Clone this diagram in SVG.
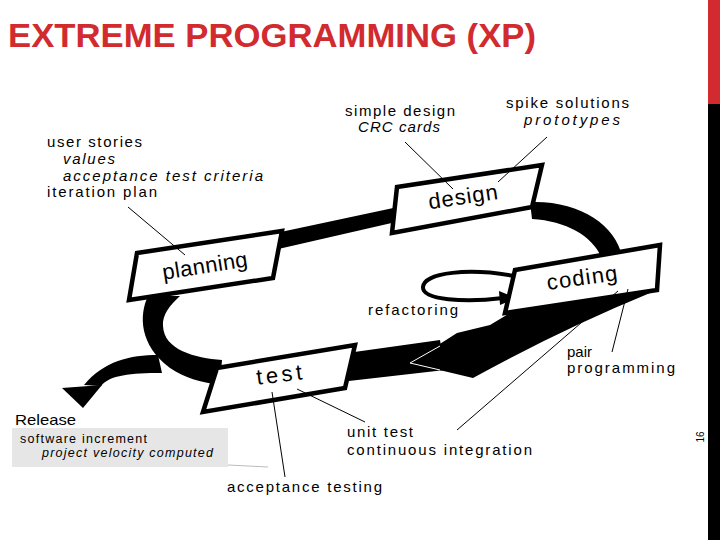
<svg xmlns="http://www.w3.org/2000/svg" width="720" height="540" viewBox="0 0 720 540">
<style>
.lbl{font-family:"Liberation Sans",Arial,sans-serif;font-size:15px;fill:#000}
.sm{font-size:12.5px}
.it{font-style:italic}
.box{fill:#fff;stroke:#000;stroke-width:4.5;stroke-linejoin:miter}
.bt{font-family:"Liberation Sans",Arial,sans-serif;font-size:22px;fill:#000;text-anchor:middle}
.lead{stroke:#000;stroke-width:1;fill:none}
.blk{fill:#000;stroke:none}
</style>
<rect width="720" height="540" fill="#fff"/>
<text x="8" y="47" font-family="'Liberation Sans',Arial,sans-serif" font-weight="bold" font-size="33" fill="#d12b2f" textLength="528" lengthAdjust="spacingAndGlyphs">EXTREME PROGRAMMING (XP)</text>
<rect x="708" y="0" width="12" height="104" fill="#d12b2f"/>
<rect x="708" y="104" width="12" height="436" fill="#000"/>
<text transform="translate(704,437) rotate(-90)" text-anchor="middle" font-family="'Liberation Sans',Arial,sans-serif" font-size="10">16</text>

<g id="flow">
  <polygon class="blk" points="276,233 398,207 396,222 274,250"/>
  <path class="blk" d="M530 202 C582 200 620 228 623 262 L603 263 C598 240 570 221 532 219 Z"/>
  <path class="blk" d="M148 296 C139 315 139 345 170 368 C185 378 200 382 220 385 L222 360 C195 358 164 350 163 326 C162 315 170 305 180 296 Z"/>
  <path class="blk" d="M158 355 C130 355 104 361 84 385 L101 386 C110 375 130 373 162 373 Z"/>
  <polygon class="blk" points="62,388 102,385 83,408"/>
  <polygon class="blk" points="340,354 440,340 445,370 340,382"/>
  <path class="blk" d="M650 288 L520 306 L505 316 L490 325 L457 333 L410 363 L473 378 Q560 330 650 293 Z"/>
  <polyline points="440,346 410,363 440,370" fill="none" stroke="#fff" stroke-width="1"/>
  <path d="M514 276 C470 268 424 272 423 287 C422 300 465 303 503 298" fill="none" stroke="#000" stroke-width="4"/>
  <polygon class="blk" points="499,291 516,298 500,305"/>
</g>

<g id="planning">
  <polygon class="box" points="137,253 282,231 273,278 129,300"/>
  <text class="bt" transform="translate(206,273) rotate(-9)" textLength="86" lengthAdjust="spacing">planning</text>
</g>
<g id="design">
  <polygon class="box" points="397,187 542,165 532,207 392,233"/>
  <text class="bt" transform="translate(464,204) rotate(-8.5)" textLength="70" lengthAdjust="spacing">design</text>
</g>
<g id="coding">
  <polygon class="box" points="515,270 660,245 657,290 505,313"/>
  <text class="bt" transform="translate(583,285) rotate(-8)" textLength="71" lengthAdjust="spacing">coding</text>
</g>
<g id="test">
  <polygon class="box" points="217,368 355,345 345,388 203,412"/>
  <text class="bt" transform="translate(280,382) rotate(-7)" textLength="46" lengthAdjust="spacing">test</text>
</g>

<g id="leaders">
  <line class="lead" x1="128" y1="207" x2="185" y2="255"/>
  <line class="lead" x1="405" y1="142" x2="453" y2="189"/>
  <line class="lead" x1="547" y1="137" x2="498" y2="182"/>
  <line class="lead" x1="628" y1="289" x2="612" y2="352"/>
  <line class="lead" x1="618" y1="291" x2="457" y2="430"/>
  <line class="lead" x1="297" y1="389" x2="365" y2="422"/>
  <line class="lead" x1="272" y1="392" x2="285" y2="477"/>
  <line x1="228" y1="465" x2="268" y2="467" stroke="#bbb" stroke-width="1"/>
</g>

<g id="labels">
  <text class="lbl" x="47" y="147" textLength="95" lengthAdjust="spacing">user stories</text>
  <text class="lbl it" x="63" y="164" textLength="52" lengthAdjust="spacing">values</text>
  <text class="lbl it" x="63" y="181" textLength="200" lengthAdjust="spacing">acceptance test criteria</text>
  <text class="lbl" x="47" y="197" textLength="110" lengthAdjust="spacing">iteration plan</text>
  <text class="lbl" x="345" y="116" textLength="110" lengthAdjust="spacing">simple design</text>
  <text class="lbl it" x="358" y="132" textLength="82" lengthAdjust="spacing">CRC cards</text>
  <text class="lbl" x="506" y="108" textLength="123" lengthAdjust="spacing">spike solutions</text>
  <text class="lbl it" x="524" y="125" textLength="96" lengthAdjust="spacing">prototypes</text>
  <text class="lbl" x="368" y="315" textLength="90" lengthAdjust="spacing">refactoring</text>
  <text class="lbl" x="567" y="357" textLength="25" lengthAdjust="spacing">pair</text>
  <text class="lbl" x="567" y="373" textLength="108" lengthAdjust="spacing">programming</text>
  <text class="lbl" x="347" y="437" textLength="66" lengthAdjust="spacing">unit  test</text>
  <text class="lbl" x="347" y="455" textLength="185" lengthAdjust="spacing">continuous integration</text>
  <text class="lbl" x="227" y="492" textLength="155" lengthAdjust="spacing">acceptance testing</text>
  <text class="lbl" x="15" y="425" font-size="16" textLength="61" lengthAdjust="spacingAndGlyphs">Release</text>
  <rect x="12" y="428" width="216" height="39" fill="#e6e6e6"/>
  <text class="lbl sm" x="20" y="443" textLength="127" lengthAdjust="spacing">software increment</text>
  <text class="lbl sm it" x="42" y="457" textLength="171" lengthAdjust="spacing">project velocity computed</text>
</g>
</svg>
